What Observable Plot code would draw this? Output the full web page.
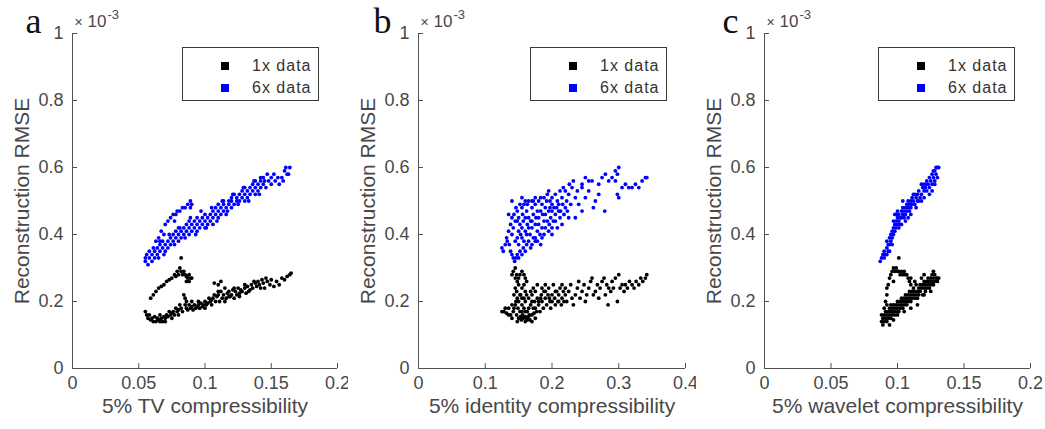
<!DOCTYPE html>
<html><head><meta charset="utf-8">
<script src="https://cdn.jsdelivr.net/npm/d3@7"></script>
<script src="https://cdn.jsdelivr.net/npm/@observablehq/plot@0.6"></script>
<style>
body{margin:0;background:#fff;}
#wrap{display:flex;width:1045px;height:429px;}
.panel{position:relative;}
.legend{position:absolute;left:182px;top:47px;width:135px;height:52px;border:1px solid #3a3a3a;background:#fff;font-family:"Liberation Sans",Arial,sans-serif;font-size:16px;color:#333;}
.legend .sq{position:absolute;left:38px;width:8px;height:8px;}
.legend .lb{position:absolute;left:69px;letter-spacing:1px;line-height:16px;}
</style></head>
<body><div id="wrap"></div>
<script>
const yTicks = [0, 0.2, 0.4, 0.6, 0.8, 1];
const aXTicks = [0, 0.05, 0.1, 0.15, 0.2];
const bXTicks = [0, 0.1, 0.2, 0.3, 0.4];
const cXTicks = [0, 0.05, 0.1, 0.15, 0.2];
const panelLetters = ["a", "b", "c"];
const xLabels = ["5% TV compressibility", "5% identity compressibility", "5% wavelet compressibility"];
const yLabel = "Reconstruction RMSE";
const yTimes = "\u00d7";
const yBase = "10";
const yExponent = "-3";
const seriesNames = ["1x data", "6x data"];
const seriesColors = ["#000000", "#0000ff"];

// y values in units of 1e-3
const aOne = [
[0.059,0.21],[0.061,0.22],[0.063,0.23],[0.065,0.24],[0.067,0.245],[0.069,0.25],[0.071,0.26],[0.073,0.265],[0.075,0.27],[0.077,0.28],[0.078,0.275],[0.079,0.29],[0.080,0.28],[0.081,0.30],[0.082,0.33],[0.082,0.29],[0.083,0.28],[0.084,0.29],[0.085,0.28],[0.086,0.275],[0.087,0.27],[0.088,0.28],[0.089,0.27],[0.090,0.27],[0.086,0.26],[0.088,0.26],
[0.055,0.17],[0.056,0.16],[0.057,0.15],[0.058,0.16],[0.059,0.145],[0.060,0.15],[0.061,0.14],[0.062,0.155],[0.063,0.14],[0.064,0.15],[0.065,0.145],[0.066,0.16],[0.067,0.15],[0.068,0.14],[0.069,0.155],[0.070,0.15],[0.071,0.16],[0.072,0.155],[0.073,0.17],[0.074,0.16],[0.075,0.165],[0.076,0.17],[0.077,0.16],[0.078,0.18],[0.079,0.17],[0.080,0.175],[0.081,0.19],[0.082,0.18],[0.083,0.17],[0.084,0.22],[0.085,0.19],[0.085,0.21],[0.086,0.18],[0.087,0.175],[0.088,0.19],[0.089,0.18],[0.090,0.185],[0.091,0.175],[0.092,0.19],[0.093,0.18],[0.094,0.185],[0.095,0.19],[0.096,0.18],[0.097,0.195],[0.098,0.185],[0.099,0.19],[0.100,0.20],[0.101,0.19],[0.102,0.195],[0.103,0.21],[0.104,0.20],[0.105,0.19],[0.106,0.21],[0.107,0.22],[0.107,0.255],[0.108,0.20],[0.109,0.215],[0.110,0.22],[0.110,0.25],[0.111,0.20],[0.112,0.23],[0.112,0.26],[0.113,0.21],[0.114,0.22],[0.115,0.24],[0.116,0.21],[0.117,0.225],[0.118,0.23],[0.119,0.215],[0.120,0.22],[0.121,0.235],[0.122,0.21],[0.123,0.23],[0.124,0.22],[0.125,0.24],[0.126,0.225],[0.127,0.235],[0.128,0.23],[0.130,0.24],[0.131,0.225],[0.132,0.245],[0.134,0.235],[0.135,0.25],[0.136,0.24],[0.138,0.255],[0.139,0.245],[0.140,0.26],[0.141,0.25],[0.143,0.265],[0.144,0.255],[0.145,0.24],[0.147,0.26],[0.149,0.25],[0.150,0.265],[0.152,0.245],[0.154,0.26],[0.156,0.25],[0.158,0.27],[0.160,0.265],[0.162,0.275],[0.164,0.28],[0.165,0.285],
[0.095,0.20],[0.100,0.18],[0.105,0.205],[0.110,0.23],[0.115,0.20],[0.118,0.215],[0.122,0.24],[0.126,0.215],[0.130,0.25],[0.133,0.23],[0.137,0.26],[0.142,0.24],[0.146,0.27],[0.090,0.20],[0.086,0.20],[0.080,0.16],[0.075,0.15],[0.070,0.14],[0.066,0.14]
];
const aSix = [
[0.055,0.33],[0.055,0.32],[0.056,0.34],[0.058,0.33],[0.058,0.35],[0.060,0.34],[0.060,0.32],[0.062,0.35],[0.062,0.33],[0.064,0.34],[0.064,0.36],[0.066,0.35],[0.066,0.37],[0.068,0.36],[0.068,0.38],[0.070,0.37],[0.070,0.35],[0.072,0.38],[0.072,0.36],[0.074,0.37],[0.074,0.39],[0.076,0.38],[0.076,0.40],[0.078,0.39],[0.078,0.41],[0.080,0.40],[0.080,0.38],[0.080,0.42],[0.082,0.41],[0.082,0.39],[0.084,0.40],[0.084,0.42],[0.086,0.41],[0.086,0.43],[0.088,0.42],[0.088,0.40],[0.088,0.44],[0.090,0.43],[0.090,0.41],[0.092,0.42],[0.092,0.44],[0.094,0.43],[0.094,0.45],[0.094,0.41],[0.096,0.44],[0.096,0.42],[0.098,0.43],[0.098,0.45],[0.100,0.44],[0.100,0.46],[0.100,0.42],[0.102,0.45],[0.102,0.43],[0.104,0.44],[0.104,0.46],[0.106,0.45],[0.106,0.47],[0.106,0.43],[0.108,0.46],[0.108,0.48],[0.110,0.47],[0.110,0.45],[0.110,0.49],[0.112,0.46],[0.112,0.48],[0.114,0.47],[0.114,0.49],[0.114,0.50],[0.116,0.48],[0.116,0.46],[0.118,0.49],[0.118,0.50],[0.120,0.48],[0.120,0.51],[0.120,0.50],[0.122,0.49],[0.122,0.52],[0.124,0.50],[0.124,0.51],[0.126,0.52],[0.126,0.50],[0.128,0.51],[0.128,0.53],[0.130,0.52],[0.130,0.54],[0.130,0.50],[0.132,0.53],[0.132,0.51],[0.134,0.52],[0.134,0.54],[0.136,0.53],[0.136,0.55],[0.138,0.54],[0.138,0.56],[0.138,0.52],[0.140,0.55],[0.140,0.53],[0.142,0.56],[0.142,0.54],[0.142,0.57],[0.144,0.55],[0.144,0.57],[0.146,0.54],[0.148,0.56],[0.150,0.57],[0.150,0.55],[0.153,0.56],[0.156,0.55],[0.158,0.57],[0.160,0.59],[0.162,0.58],[0.164,0.60],
[0.057,0.31],[0.061,0.36],[0.065,0.33],[0.069,0.34],[0.073,0.40],[0.077,0.37],[0.081,0.42],[0.085,0.39],[0.089,0.45],[0.093,0.40],[0.097,0.47],[0.101,0.42],[0.105,0.48],[0.109,0.44],[0.113,0.50],[0.117,0.47],[0.121,0.52],[0.125,0.49],[0.129,0.54],[0.133,0.50],[0.137,0.56],[0.141,0.52],[0.145,0.56],[0.147,0.58],[0.152,0.58],[0.155,0.57],[0.159,0.56],[0.161,0.60],[0.163,0.58],
[0.063,0.38],[0.065,0.39],[0.066,0.38],[0.067,0.41],[0.069,0.40],[0.070,0.43],[0.072,0.44],[0.074,0.45],[0.076,0.46],[0.077,0.44],[0.078,0.46],[0.079,0.47],[0.081,0.47],[0.083,0.48],[0.085,0.48],[0.087,0.49],[0.089,0.50],[0.090,0.49],[0.089,0.48]
];
const bOne = [
[0.140,0.28],[0.142,0.29],[0.145,0.30],[0.147,0.28],[0.150,0.27],[0.148,0.26],[0.145,0.27],[0.152,0.28],[0.155,0.29],[0.158,0.28],[0.160,0.27],[0.162,0.26],[0.158,0.25],[0.155,0.24],[0.150,0.25],[0.145,0.24],[0.143,0.22],[0.147,0.23],[0.153,0.22],
[0.125,0.17],[0.128,0.17],[0.132,0.165],[0.135,0.18],[0.138,0.16],[0.140,0.15],[0.142,0.17],[0.145,0.19],[0.147,0.16],[0.148,0.14],[0.150,0.15],[0.152,0.17],[0.154,0.145],[0.156,0.16],[0.158,0.18],[0.160,0.14],[0.162,0.15],[0.163,0.17],[0.165,0.155],[0.167,0.145],[0.168,0.19],[0.170,0.16],[0.172,0.18],[0.174,0.20],[0.175,0.15],[0.177,0.17],[0.178,0.21],[0.180,0.19],[0.182,0.17],[0.184,0.22],[0.185,0.20],[0.187,0.18],[0.188,0.23],[0.190,0.21],[0.192,0.19],[0.194,0.22],[0.195,0.24],[0.197,0.20],[0.198,0.18],[0.200,0.22],[0.202,0.25],[0.204,0.21],[0.205,0.19],[0.207,0.23],[0.209,0.20],[0.210,0.22],[0.212,0.24],[0.214,0.19],[0.215,0.21],[0.217,0.23],[0.218,0.20],[0.220,0.22],[0.150,0.20],[0.152,0.22],[0.155,0.19],[0.158,0.21],[0.160,0.20],[0.162,0.22],[0.165,0.21],[0.168,0.23],[0.170,0.22],[0.172,0.24],[0.175,0.23],[0.178,0.25],[0.165,0.18],[0.155,0.17],[0.173,0.165],[0.160,0.17],
[0.130,0.18],[0.135,0.16],[0.140,0.19],[0.143,0.18],[0.146,0.20],[0.149,0.18],[0.153,0.155],[0.157,0.15],[0.160,0.155],[0.163,0.145],[0.166,0.16],[0.170,0.14],[0.175,0.18],[0.180,0.20],[0.183,0.21],[0.190,0.23],[0.196,0.21],[0.200,0.20],[0.205,0.23],[0.210,0.20],[0.220,0.24],[0.215,0.25],[0.190,0.25],[0.185,0.24],[0.170,0.20],[0.160,0.23],[0.155,0.21],[0.148,0.21],
[0.222,0.20],[0.225,0.23],[0.228,0.25],[0.230,0.21],[0.232,0.19],[0.235,0.22],[0.238,0.24],[0.240,0.26],[0.242,0.21],[0.245,0.23],[0.248,0.25],[0.250,0.20],[0.252,0.22],[0.255,0.24],[0.258,0.26],[0.260,0.27],[0.262,0.22],[0.265,0.23],[0.268,0.25],[0.270,0.21],[0.272,0.24],[0.275,0.26],[0.278,0.27],[0.280,0.22],[0.282,0.25],[0.284,0.19],[0.285,0.24],[0.288,0.23],[0.290,0.26],[0.292,0.24],[0.295,0.27],[0.298,0.20],[0.300,0.28],[0.302,0.24],[0.305,0.25],[0.308,0.23],[0.310,0.25],[0.313,0.24],[0.316,0.26],[0.320,0.25],[0.323,0.24],[0.326,0.26],[0.330,0.25],[0.333,0.27],[0.336,0.26],[0.340,0.27],[0.342,0.28]
];
const bSix = [
[0.125,0.36],[0.127,0.35],[0.130,0.37],[0.133,0.38],[0.136,0.37],[0.138,0.35],[0.140,0.34],[0.142,0.33],[0.144,0.32],[0.146,0.33],[0.148,0.34],[0.150,0.33],[0.152,0.35],[0.155,0.34],[0.157,0.36],[0.160,0.35],[0.162,0.37],[0.165,0.38],[0.168,0.36],[0.170,0.37],[0.172,0.39],[0.175,0.38],[0.183,0.37],[0.175,0.39],
[0.135,0.46],[0.140,0.50],[0.140,0.40],[0.142,0.42],[0.145,0.44],[0.143,0.46],[0.146,0.48],[0.148,0.47],[0.150,0.45],[0.152,0.43],[0.150,0.41],[0.148,0.39],[0.153,0.40],[0.155,0.42],[0.157,0.44],[0.156,0.46],[0.158,0.49],[0.155,0.51],[0.160,0.50],[0.152,0.49],[0.162,0.47],[0.165,0.45],[0.163,0.43],[0.160,0.41],[0.167,0.40],[0.170,0.42],[0.168,0.44],[0.172,0.46],[0.170,0.48],[0.175,0.49],[0.178,0.47],[0.176,0.45],[0.180,0.43],[0.178,0.41],[0.182,0.40],[0.185,0.42],[0.188,0.44],[0.186,0.46],[0.190,0.48],[0.192,0.50],[0.188,0.51],[0.195,0.47],[0.198,0.45],[0.196,0.43],[0.200,0.42],[0.202,0.44],[0.205,0.46],[0.203,0.48],[0.208,0.50],[0.210,0.47],[0.212,0.45],[0.215,0.43],[0.218,0.46],[0.220,0.48],[0.222,0.50],[0.225,0.52],[0.228,0.49],[0.195,0.53],[0.217,0.54],[0.232,0.56],[0.230,0.54],[0.226,0.55],[0.220,0.53],[0.215,0.51],[0.212,0.53],[0.205,0.52],[0.200,0.51],[0.197,0.50],[0.185,0.49],[0.180,0.50],[0.175,0.51],[0.165,0.50],[0.170,0.50],
[0.145,0.38],[0.150,0.37],[0.155,0.39],[0.158,0.38],[0.162,0.40],[0.165,0.42],[0.170,0.44],[0.175,0.43],[0.180,0.45],[0.183,0.47],[0.190,0.46],[0.193,0.44],[0.197,0.48],[0.200,0.49],[0.205,0.44],[0.210,0.49],[0.213,0.47],[0.216,0.49],[0.190,0.42],[0.185,0.39],[0.178,0.38],[0.160,0.45],[0.155,0.48],[0.148,0.44],[0.140,0.45],[0.138,0.43],[0.135,0.41],[0.132,0.39],[0.200,0.47],[0.207,0.48],[0.193,0.52],[0.183,0.51],[0.172,0.50],[0.163,0.49],[0.223,0.47],[0.208,0.42],[0.200,0.40],[0.195,0.41],[0.188,0.40],
[0.225,0.45],[0.235,0.45],[0.235,0.51],[0.240,0.49],[0.245,0.54],[0.255,0.53],[0.262,0.48],[0.279,0.47],[0.250,0.51],[0.245,0.47],[0.265,0.50],[0.270,0.52],[0.238,0.53],
[0.245,0.55],[0.250,0.57],[0.255,0.56],[0.260,0.56],[0.270,0.55],[0.275,0.57],[0.280,0.58],[0.285,0.56],[0.290,0.57],[0.295,0.59],[0.300,0.60],[0.298,0.58],[0.295,0.56],[0.298,0.52],[0.300,0.51],[0.305,0.54],[0.310,0.55],[0.315,0.54],[0.320,0.54],[0.325,0.55],[0.330,0.54],[0.335,0.56],[0.340,0.57],[0.342,0.57]
];
const cOne = [
[0.091,0.20],[0.092,0.22],[0.092,0.24],[0.093,0.25],[0.094,0.27],[0.095,0.28],[0.096,0.29],[0.097,0.30],[0.098,0.29],[0.099,0.30],[0.100,0.29],[0.101,0.33],[0.101,0.29],[0.102,0.28],[0.103,0.29],[0.104,0.28],[0.105,0.29],[0.106,0.28],[0.107,0.28],[0.108,0.27],[0.109,0.26],[0.110,0.27],[0.110,0.25],[0.097,0.26],
[0.088,0.14],[0.088,0.16],[0.089,0.15],[0.089,0.13],[0.090,0.14],[0.090,0.16],[0.091,0.15],[0.091,0.17],[0.092,0.14],[0.092,0.16],[0.093,0.15],[0.093,0.17],[0.094,0.16],[0.094,0.18],[0.095,0.15],[0.095,0.17],[0.096,0.16],[0.096,0.18],[0.097,0.17],[0.097,0.19],[0.098,0.16],[0.098,0.18],[0.099,0.17],[0.099,0.19],[0.100,0.18],[0.100,0.20],[0.101,0.19],[0.101,0.17],[0.102,0.20],[0.102,0.18],[0.103,0.19],[0.103,0.21],[0.104,0.20],[0.104,0.18],[0.105,0.21],[0.105,0.19],[0.106,0.20],[0.106,0.22],[0.107,0.21],[0.107,0.19],[0.108,0.22],[0.108,0.20],[0.109,0.21],[0.109,0.23],[0.110,0.22],[0.110,0.20],[0.111,0.21],[0.111,0.23],[0.112,0.22],[0.112,0.24],[0.113,0.21],[0.113,0.23],[0.114,0.22],[0.114,0.25],[0.115,0.23],[0.115,0.21],[0.116,0.24],[0.116,0.22],[0.117,0.23],[0.117,0.25],[0.118,0.24],[0.119,0.22],[0.119,0.25],[0.120,0.24],[0.120,0.26],[0.121,0.23],[0.121,0.25],[0.122,0.26],[0.122,0.24],[0.123,0.25],[0.123,0.27],[0.124,0.24],[0.124,0.26],[0.125,0.25],[0.125,0.27],[0.126,0.26],[0.126,0.28],[0.127,0.25],[0.127,0.27],[0.128,0.26],[0.128,0.28],[0.129,0.27],[0.130,0.26],[0.130,0.27],[0.131,0.27],
[0.090,0.18],[0.095,0.19],[0.100,0.16],[0.105,0.17],[0.110,0.18],[0.115,0.19],[0.120,0.22],[0.125,0.23],[0.118,0.27],[0.113,0.26],[0.120,0.28],[0.127,0.29],[0.094,0.13],[0.097,0.145],[0.092,0.19]
];
const cSix = [
[0.087,0.32],[0.088,0.33],[0.089,0.34],[0.090,0.33],[0.090,0.35],[0.091,0.34],[0.092,0.36],[0.092,0.38],[0.093,0.37],[0.093,0.35],[0.094,0.39],[0.094,0.37],[0.095,0.38],[0.095,0.40],[0.096,0.41],[0.096,0.39],[0.097,0.42],[0.097,0.40],[0.098,0.43],[0.098,0.41],[0.098,0.46],[0.099,0.44],[0.099,0.42],[0.100,0.45],[0.100,0.43],[0.100,0.47],[0.101,0.44],[0.101,0.46],[0.102,0.45],[0.102,0.43],[0.103,0.47],[0.103,0.45],[0.104,0.46],[0.104,0.48],[0.105,0.47],[0.105,0.45],[0.106,0.48],[0.106,0.46],[0.107,0.49],[0.107,0.47],[0.108,0.48],[0.108,0.50],[0.109,0.49],[0.109,0.47],[0.110,0.50],[0.110,0.48],[0.111,0.49],[0.111,0.51],[0.112,0.50],[0.113,0.52],[0.113,0.49],[0.114,0.51],[0.115,0.52],[0.115,0.50],[0.116,0.53],[0.117,0.51],[0.118,0.55],[0.118,0.52],[0.119,0.54],[0.120,0.53],[0.120,0.55],[0.121,0.54],[0.122,0.56],[0.122,0.53],[0.123,0.55],[0.124,0.57],[0.124,0.54],[0.125,0.56],[0.126,0.55],[0.126,0.58],[0.127,0.57],[0.128,0.56],[0.128,0.59],[0.129,0.58],[0.130,0.60],[0.130,0.57],[0.131,0.60],
[0.092,0.34],[0.094,0.35],[0.096,0.37],[0.097,0.44],[0.099,0.46],[0.101,0.42],[0.103,0.43],[0.104,0.50],[0.106,0.44],[0.108,0.45],[0.110,0.46],[0.112,0.52],[0.114,0.48],[0.116,0.50],[0.118,0.50],[0.120,0.51],[0.122,0.55],[0.124,0.52],[0.126,0.53],[0.128,0.55],[0.129,0.60],[0.127,0.59]
];

const panels = [
  {letter: panelLetters[0], xLabel: xLabels[0], xTicks: aXTicks, one: aOne, six: aSix, width: 348, ml: 72, mr: 11, ldx: -47},
  {letter: panelLetters[1], xLabel: xLabels[1], xTicks: bXTicks, one: bOne, six: bSix, width: 348, ml: 70, mr: 11, ldx: -45},
  {letter: panelLetters[2], xLabel: xLabels[2], xTicks: cXTicks, one: cOne, six: cSix, width: 349, ml: 68, mr: 15, ldx: -42}
];

const axisColor = "#505050";
const textColor = "#484848";
const wrap = document.getElementById("wrap");

for (const p of panels) {
  const H = 429, mt = 33, mb = 61;
  const fw = p.width - p.ml - p.mr, fh = H - mt - mb;
  const svg = Plot.plot({
    width: p.width, height: H,
    marginLeft: p.ml, marginRight: p.mr, marginTop: mt, marginBottom: mb,
    x: {domain: [p.xTicks[0], p.xTicks[p.xTicks.length - 1]]},
    y: {domain: [yTicks[0], yTicks[yTicks.length - 1]]},
    style: {fontFamily: "'Liberation Sans', Arial, sans-serif", fontSize: "18px", color: textColor, background: "#fff", overflow: "visible"},
    marks: [
      Plot.ruleY([0], {stroke: axisColor}),
      Plot.ruleX([0], {stroke: axisColor}),
      Plot.tickX(p.xTicks, {x: d => d, insetTop: fh - 5, stroke: axisColor}),
      Plot.tickY(yTicks, {y: d => d, insetRight: fw - 5, stroke: axisColor}),
      Plot.axisX({ticks: p.xTicks, tickSize: 0, tickPadding: 8, tickFormat: d => String(d), label: null, fill: textColor}),
      Plot.axisY({ticks: yTicks, tickSize: 0, tickPadding: 9, tickFormat: d => String(d), label: null, fill: textColor}),
      Plot.dot(p.one, {x: d => d[0], y: d => d[1], r: 1.9, fill: seriesColors[0]}),
      Plot.dot(p.six, {x: d => d[0], y: d => d[1], r: 1.9, fill: seriesColors[1]}),
      Plot.text([p.xLabel], {text: d => d, frameAnchor: "bottom", dy: 44, fontSize: 21, fill: textColor}),
      Plot.text([yLabel], {text: d => d, frameAnchor: "left", dx: -50, rotate: -90, textAnchor: "middle", lineAnchor: "middle", fontSize: 21, fill: textColor}),
      Plot.text([p.letter], {text: d => d, frameAnchor: "top-left", dx: p.ldx, dy: -1, textAnchor: "start", lineAnchor: "bottom", fontFamily: "'Liberation Serif', 'Times New Roman', serif", fontSize: 36, fill: "#111"}),
      Plot.text([yTimes], {text: d => d, frameAnchor: "top-left", dx: 2, dy: -7, textAnchor: "start", lineAnchor: "bottom", fontSize: 14, fill: textColor}),
      Plot.text([yBase], {text: d => d, frameAnchor: "top-left", dx: 15, dy: -7, textAnchor: "start", lineAnchor: "bottom", fontSize: 17, fill: textColor}),
      Plot.text([yExponent], {text: d => d, frameAnchor: "top-left", dx: 35, dy: -15, textAnchor: "start", lineAnchor: "bottom", fontSize: 13, fill: textColor})
    ]
  });
  const div = document.createElement("div");
  div.className = "panel";
  div.style.width = p.width + "px";
  div.appendChild(svg);
  const lg = document.createElement("div");
  lg.className = "legend";
  seriesNames.forEach((name, i) => {
    const sq = document.createElement("div");
    sq.className = "sq";
    sq.style.top = (14 + i * 22) + "px";
    sq.style.background = seriesColors[i];
    const lb = document.createElement("div");
    lb.className = "lb";
    lb.style.top = (10 + i * 22) + "px";
    lb.textContent = name;
    lg.appendChild(sq);
    lg.appendChild(lb);
  });
  div.appendChild(lg);
  wrap.appendChild(div);
}
</script>
</body></html>
